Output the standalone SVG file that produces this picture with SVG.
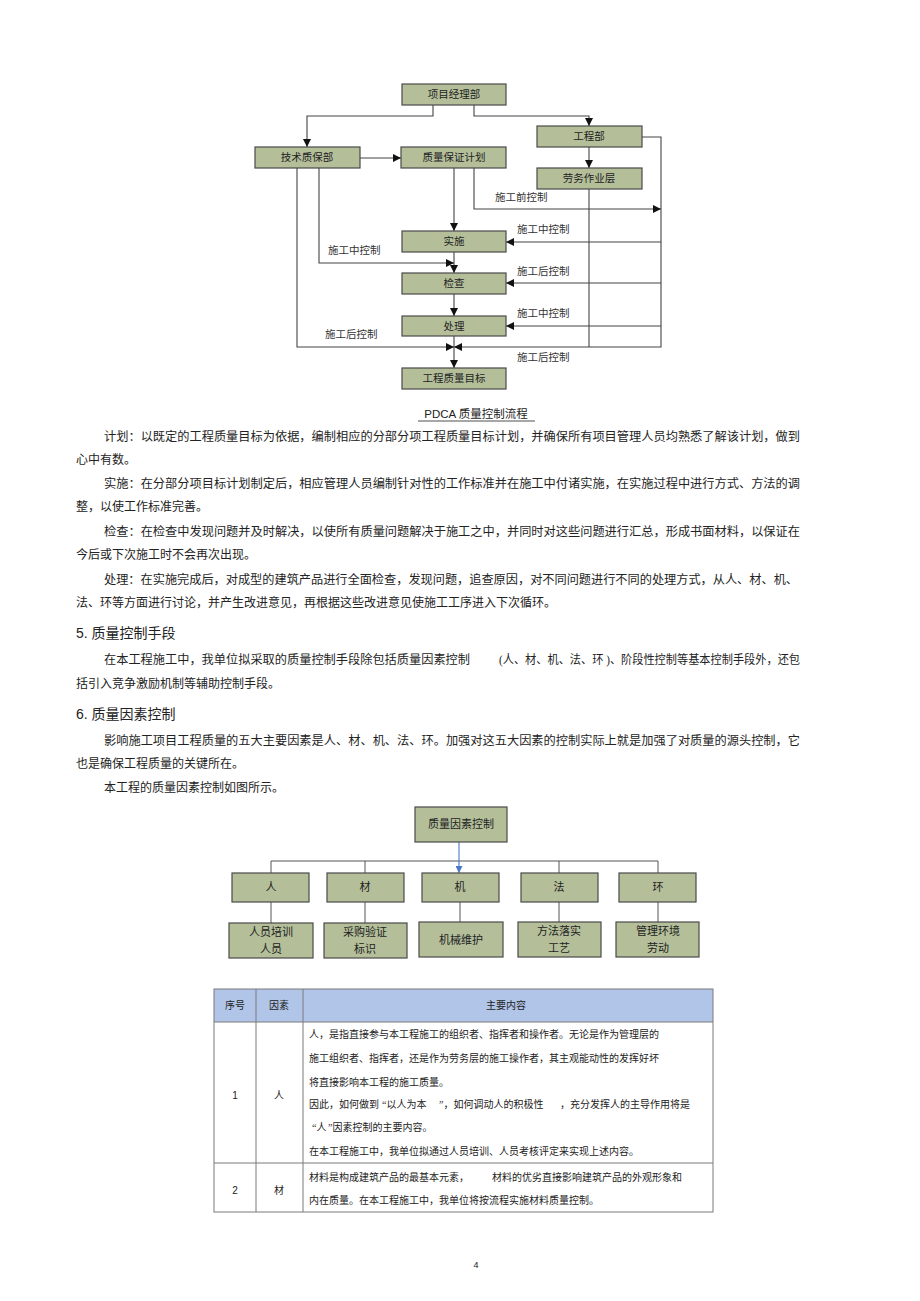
<svg xmlns="http://www.w3.org/2000/svg" width="920" height="1301" viewBox="0 0 920 1301">
<defs>
<marker id="ah" viewBox="0 0 10 10" refX="10" refY="5" markerWidth="8" markerHeight="8" markerUnits="userSpaceOnUse" orient="auto"><path d="M0,0 L10,5 L0,10 z" fill="#111"/></marker>
<marker id="ahb" viewBox="0 0 10 10" refX="10" refY="5" markerWidth="7" markerHeight="7" markerUnits="userSpaceOnUse" orient="auto"><path d="M0,0 L10,5 L0,10 z" fill="#4a78c8"/></marker>
<style>
.bx{fill:#b4bf9a;stroke:#4a4a4a;stroke-width:1.2}
.ln{fill:none;stroke:#444;stroke-width:1.1}
.lg{fill:none;stroke:#555;stroke-width:1}
.t{font-family:"Liberation Serif","Noto Sans CJK SC",serif;fill:#222}
.f{font-size:10.5px;text-anchor:middle}
.lb{font-size:10.5px;fill:#333}
.p{font-size:12px}
.h{font-family:"Liberation Sans","Noto Sans CJK SC",sans-serif;font-size:14px;fill:#222}
.f2{font-size:11px;text-anchor:middle}
.tb{font-size:10px}
.tc{font-size:10px;text-anchor:middle}
.cell{fill:none;stroke:#7a7a7a;stroke-width:1}
</style>
</defs>
<rect width="920" height="1301" fill="#fff"/>

<!-- PDCA flowchart connectors -->
<g id="connectors">
<path class="ln" d="M433,105 V116 H307 V147" marker-end="url(#ah)"/>
<path class="ln" d="M474,105 V116 H589 V126" marker-end="url(#ah)"/>
<path class="ln" d="M589,147 V168" marker-end="url(#ah)"/>
<path class="ln" d="M360,158 H401" marker-end="url(#ah)"/>
<path class="ln" d="M454,168 V231" marker-end="url(#ah)"/>
<path class="ln" d="M474,168 V209 H661" marker-end="url(#ah)"/>
<path class="ln" d="M642,137 H661 V347 H454" marker-end="url(#ah)"/>
<path class="ln" d="M589,189 V347"/>
<path class="ln" d="M661,242 H506" marker-end="url(#ah)"/>
<path class="ln" d="M661,283 H506" marker-end="url(#ah)"/>
<path class="ln" d="M661,326 H506" marker-end="url(#ah)"/>
<path class="ln" d="M454,252 V273" marker-end="url(#ah)"/>
<path class="ln" d="M319,168 V263 H454" marker-end="url(#ah)"/>
<path class="ln" d="M454,294 V316" marker-end="url(#ah)"/>
<path class="ln" d="M297,168 V347 H454" marker-end="url(#ah)"/>
<path class="ln" d="M454,336 V368" marker-end="url(#ah)"/>
</g>
<g id="flow-labels">
<text class="t lb" x="495" y="201">施工前控制</text>
<text class="t lb" x="517" y="233">施工中控制</text>
<text class="t lb" x="328" y="254">施工中控制</text>
<text class="t lb" x="517" y="275">施工后控制</text>
<text class="t lb" x="517" y="317">施工中控制</text>
<text class="t lb" x="325" y="338">施工后控制</text>
<text class="t lb" x="517" y="361">施工后控制</text>
</g>
<g id="n-xmjlb"><rect class="bx" x="402" y="84" width="104" height="21"/><text class="t f" x="454" y="98">项目经理部</text></g>
<g id="n-gcb"><rect class="bx" x="537" y="126" width="105" height="21"/><text class="t f" x="589" y="140">工程部</text></g>
<g id="n-jszbb"><rect class="bx" x="255" y="147" width="105" height="21"/><text class="t f" x="307" y="161">技术质保部</text></g>
<g id="n-zlbzjh"><rect class="bx" x="401" y="147" width="105" height="21"/><text class="t f" x="454" y="161">质量保证计划</text></g>
<g id="n-lwzyc"><rect class="bx" x="537" y="168" width="105" height="21"/><text class="t f" x="589" y="182">劳务作业层</text></g>
<g id="n-ss"><rect class="bx" x="402" y="231" width="104" height="21"/><text class="t f" x="454" y="245">实施</text></g>
<g id="n-jc"><rect class="bx" x="402" y="273" width="104" height="21"/><text class="t f" x="454" y="287">检查</text></g>
<g id="n-cl"><rect class="bx" x="402" y="316" width="104" height="20"/><text class="t f" x="454" y="330">处理</text></g>
<g id="n-gczlmb"><rect class="bx" x="402" y="368" width="104" height="21"/><text class="t f" x="454" y="382">工程质量目标</text></g>

<g id="caption">
<text x="476" y="418" style="font-family:'Liberation Sans','Noto Sans CJK SC',sans-serif;font-size:11.5px;fill:#222;text-anchor:middle">PDCA 质量控制流程</text>
<line x1="418" y1="421" x2="535" y2="421" stroke="#222" stroke-width="0.8"/>
</g>

<g id="body-text" class="t p">
<text x="104" y="441" textLength="696" lengthAdjust="spacingAndGlyphs">计划：以既定的工程质量目标为依据，编制相应的分部分项工程质量目标计划，并确保所有项目管理人员均熟悉了解该计划，做到</text>
<text x="76" y="464">心中有数。</text>
<text x="104" y="488" textLength="696" lengthAdjust="spacingAndGlyphs">实施：在分部分项目标计划制定后，相应管理人员编制针对性的工作标准并在施工中付诸实施，在实施过程中进行方式、方法的调</text>
<text x="76" y="511">整，以使工作标准完善。</text>
<text x="104" y="536" textLength="696" lengthAdjust="spacingAndGlyphs">检查：在检查中发现问题并及时解决，以使所有质量问题解决于施工之中，并同时对这些问题进行汇总，形成书面材料，以保证在</text>
<text x="76" y="559">今后或下次施工时不会再次出现。</text>
<text x="104" y="584" textLength="694" lengthAdjust="spacingAndGlyphs">处理：在实施完成后，对成型的建筑产品进行全面检查，发现问题，追查原因，对不同问题进行不同的处理方式，从人、材、机、</text>
<text x="76" y="607">法、环等方面进行讨论，并产生改进意见，再根据这些改进意见使施工工序进入下次循环。</text>
<text class="h" x="76" y="638">5. 质量控制手段</text>
<text x="104" y="664" textLength="366" lengthAdjust="spacingAndGlyphs">在本工程施工中，我单位拟采取的质量控制手段除包括质量因素控制</text>
<text x="499" y="664" textLength="301" lengthAdjust="spacingAndGlyphs">(人、材、机、法、环 )、阶段性控制等基本控制手段外，还包</text>
<text x="76" y="688">括引入竞争激励机制等辅助控制手段。</text>
<text class="h" x="76" y="719">6. 质量因素控制</text>
<text x="104" y="745" textLength="696" lengthAdjust="spacingAndGlyphs">影响施工项目工程质量的五大主要因素是人、材、机、法、环。加强对这五大因素的控制实际上就是加强了对质量的源头控制，它</text>
<text x="76" y="768">也是确保工程质量的关键所在。</text>
<text x="104" y="792">本工程的质量因素控制如图所示。</text>
</g>

<!-- factor diagram connectors -->
<g id="connectors-2">
<path class="lg" d="M271,873 V861 H658 V873"/>
<path class="lg" d="M365,861 V873"/>
<path class="lg" d="M559,861 V873"/>
<path fill="none" stroke="#4a78c8" stroke-width="1.1" d="M459,842 V873" marker-end="url(#ahb)"/>
<path class="lg" d="M271,902 V923"/>
<path class="lg" d="M365,902 V923"/>
<path class="lg" d="M460,902 V922"/>
<path class="lg" d="M559,902 V922"/>
<path class="lg" d="M658,902 V922"/>
</g>
<g id="f-root"><rect class="bx" x="415" y="807" width="92" height="35"/><text class="t f2" x="461" y="828">质量因素控制</text></g>
<g id="f-ren"><rect class="bx" x="232" y="873" width="77" height="29"/><text class="t f2" x="271" y="891">人</text></g>
<g id="f-cai"><rect class="bx" x="327" y="873" width="77" height="29"/><text class="t f2" x="365" y="891">材</text></g>
<g id="f-ji"><rect class="bx" x="422" y="873" width="77" height="29"/><text class="t f2" x="460" y="891">机</text></g>
<g id="f-fa"><rect class="bx" x="521" y="873" width="77" height="29"/><text class="t f2" x="559" y="891">法</text></g>
<g id="f-huan"><rect class="bx" x="619" y="873" width="77" height="29"/><text class="t f2" x="658" y="891">环</text></g>
<g id="f-ren2"><rect class="bx" x="229" y="923" width="84" height="35"/><text class="t f2" x="271" y="936">人员培训</text><text class="t f2" x="271" y="953">人员</text></g>
<g id="f-cai2"><rect class="bx" x="324" y="923" width="83" height="35"/><text class="t f2" x="365" y="936">采购验证</text><text class="t f2" x="365" y="953">标识</text></g>
<g id="f-ji2"><rect class="bx" x="419" y="922" width="84" height="35"/><text class="t f2" x="461" y="944">机械维护</text></g>
<g id="f-fa2"><rect class="bx" x="518" y="922" width="83" height="35"/><text class="t f2" x="559" y="935">方法落实</text><text class="t f2" x="559" y="952">工艺</text></g>
<g id="f-huan2"><rect class="bx" x="616" y="922" width="83" height="35"/><text class="t f2" x="658" y="935">管理环境</text><text class="t f2" x="658" y="952">劳动</text></g>

<!-- table -->
<g id="table">
<rect x="214" y="989" width="499" height="33" fill="#b1c5e8"/>
<rect class="cell" x="214" y="989" width="499" height="223"/>
<line class="cell" x1="214" y1="1022" x2="713" y2="1022"/>
<line class="cell" x1="214" y1="1163" x2="713" y2="1163"/>
<line class="cell" x1="256" y1="989" x2="256" y2="1212"/>
<line class="cell" x1="303" y1="989" x2="303" y2="1212"/>
<text class="t tc" x="235" y="1009">序号</text>
<text class="t tc" x="279" y="1009">因素</text>
<text class="t tc" x="506" y="1009">主要内容</text>
<text class="tc" x="235" y="1099" style="font-family:'Liberation Sans',sans-serif;fill:#222">1</text>
<text class="t tc" x="279" y="1099">人</text>
<text class="t tb" x="309" y="1038">人，是指直接参与本工程施工的组织者、指挥者和操作者。无论是作为管理层的</text>
<text class="t tb" x="309" y="1062">施工组织者、指挥者，还是作为劳务层的施工操作者，其主观能动性的发挥好坏</text>
<text class="t tb" x="309" y="1086">将直接影响本工程的施工质量。</text>
<text class="t tb" x="309" y="1108">因此，如何做到<tspan x="382">“以人为本</tspan><tspan x="439">”，如何调动人的积极性</tspan><tspan x="560">，充分发挥人的主导作用将是</tspan></text>
<text class="t tb" x="312" y="1131">“人<tspan x="328">”因素控制的主要内容。</tspan></text>
<text class="t tb" x="309" y="1155">在本工程施工中，我单位拟通过人员培训、人员考核评定来实现上述内容。</text>
<text class="tc" x="235" y="1194" style="font-family:'Liberation Sans',sans-serif;fill:#222">2</text>
<text class="t tc" x="279" y="1194">材</text>
<text class="t tb" x="309" y="1181">材料是构成建筑产品的最基本元素，<tspan x="492">材料的优劣直接影响建筑产品的外观形象和</tspan></text>
<text class="t tb" x="309" y="1204">内在质量。在本工程施工中，我单位将按流程实施材料质量控制。</text>
</g>

<text x="476" y="1268" style="font-family:'Liberation Sans',sans-serif;font-size:9px;fill:#222;text-anchor:middle">4</text>
</svg>
